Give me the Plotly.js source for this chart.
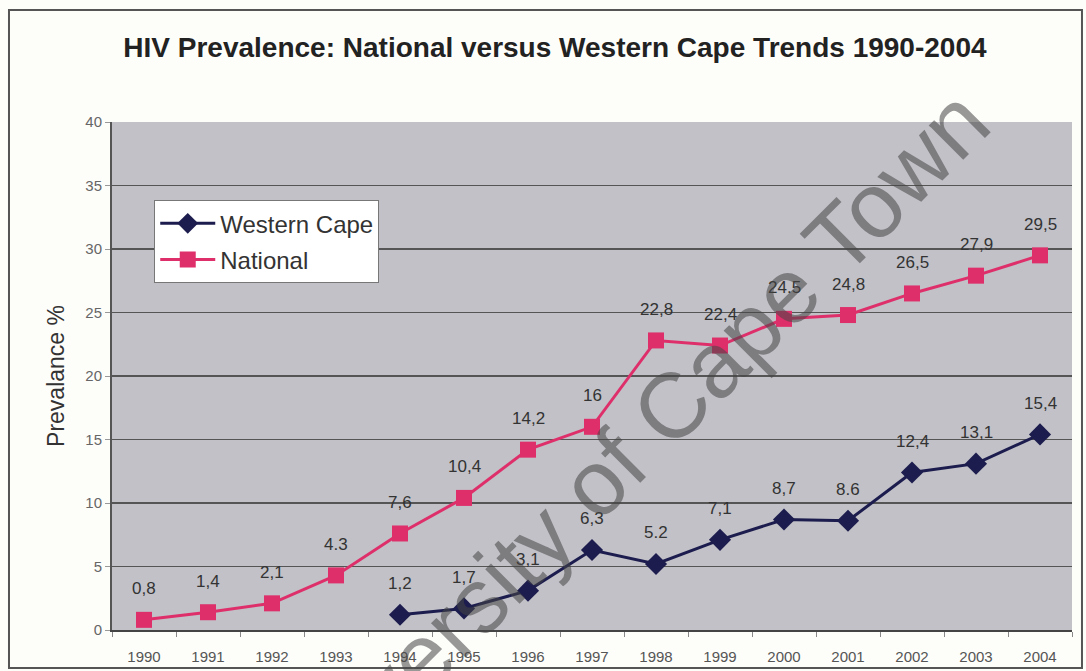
<!DOCTYPE html>
<html>
<head>
<meta charset="utf-8">
<script src="https://cdn.plot.ly/plotly-3.0.1.min.js"></script>
<style>
  html, body { margin: 0; padding: 0; background: #fdfdfa; }
  #chart { width: 1086px; height: 671px; }
</style>
</head>
<body>
<div id="chart"></div>
<script>
// ---- data ----
const years = ['1990','1991','1992','1993','1994','1995','1996','1997','1998','1999','2000','2001','2002','2003','2004'];
const nationalValues = [0.8, 1.4, 2.1, 4.3, 7.6, 10.4, 14.2, 16, 22.8, 22.4, 24.5, 24.8, 26.5, 27.9, 29.5];
const nationalLabels = ['0,8','1,4','2,1','4.3','7,6','10,4','14,2','16','22,8','22,4','24.5','24,8','26,5','27,9','29,5'];
const westernCapeValues = [null, null, null, null, 1.2, 1.7, 3.1, 6.3, 5.2, 7.1, 8.7, 8.6, 12.4, 13.1, 15.4];
const westernCapeLabels = ['','','','','1,2','1,7','3,1','6,3','5.2','7,1','8,7','8.6','12,4','13,1','15,4'];
const yTicks = [0, 5, 10, 15, 20, 25, 30, 35, 40];
const chartTitle = 'HIV Prevalence: National versus Western Cape Trends 1990-2004';
const yTitle = 'Prevalance %';
const watermark = 'University of Cape Town';

const FONT = 'Liberation Sans, Arial, sans-serif';
const navy = '#1c1c4e';
const pink = '#de2f6a';

const traces = [
  {
    x: years, y: westernCapeValues, name: 'Western Cape', type: 'scatter', mode: 'lines+markers',
    line: { color: navy, width: 3 }, marker: { symbol: 'diamond', size: 17, color: navy },
    legendgroup: 'wc', connectgaps: false, cliponaxis: false
  },
  {
    x: years, y: nationalValues, name: 'National', type: 'scatter', mode: 'lines+markers',
    line: { color: pink, width: 3 }, marker: { symbol: 'square', size: 16, color: pink },
    legendgroup: 'nat', cliponaxis: false
  }
];

const annotations = [];
function addLabels(vals, labels) {
  vals.forEach((v, i) => {
    if (v === null || labels[i] === '') return;
    annotations.push({
      x: i, y: v, xref: 'x', yref: 'y', text: labels[i], showarrow: false,
      yshift: 31, font: { family: FONT, size: 17, color: '#333333' }
    });
  });
}
addLabels(nationalValues, nationalLabels);
addLabels(westernCapeValues, westernCapeLabels);

annotations.push({
  xref: 'paper', yref: 'paper', x: 0.531, y: 0.343, text: watermark, showarrow: false,
  textangle: -45, font: { family: FONT, size: 92, color: 'rgba(70,70,70,0.55)' }
});

const layout = {
  width: 1086, height: 671,
  paper_bgcolor: '#fdfdfa', plot_bgcolor: '#c1c1c7',
  margin: { l: 112, r: 14, t: 122, b: 41 },
  title: {
    text: '<b>' + chartTitle + '</b>', x: 0.511, xanchor: 'center', y: 0.93, yanchor: 'middle',
    font: { family: FONT, size: 28, color: '#222222' }
  },
  xaxis: {
    type: 'category', range: [-0.5, years.length - 0.5], autorange: false,
    tickson: 'boundaries', ticks: 'outside', ticklen: 5, tickcolor: '#888', ticklabelstandoff: 12,
    showline: true, linecolor: '#444', linewidth: 2, showgrid: false,
    tickfont: { family: FONT, size: 15, color: '#555555' }, fixedrange: true
  },
  yaxis: {
    range: [0, 40], autorange: false, tickvals: yTicks, ticks: 'outside', ticklen: 5, tickcolor: '#999',
    showline: true, linecolor: '#555', linewidth: 2, showgrid: true, gridcolor: '#555555', gridwidth: 1.5,
    zeroline: false, tickfont: { family: FONT, size: 15, color: '#666666' },
    title: { text: yTitle, font: { family: FONT, size: 23, color: '#333333' }, standoff: 14 }
  },
  showlegend: true,
  legend: {
    x: 0.044, y: 0.846, xanchor: 'left', yanchor: 'top', bgcolor: '#ffffff',
    bordercolor: '#777', borderwidth: 1, traceorder: 'grouped', tracegroupgap: 2,
    font: { family: FONT, size: 24, color: '#333333' }, itemwidth: 55
  },
  shapes: [
    { type: 'rect', xref: 'paper', yref: 'paper', x0: -0.1073, x1: 1.0104, y0: -0.0748, y1: 1.2205,
      line: { color: '#555', width: 2 }, layer: 'above' }
  ],
  annotations: annotations
};

Plotly.newPlot('chart', traces, layout, { displayModeBar: false, staticPlot: true });
</script>
</body>
</html>
